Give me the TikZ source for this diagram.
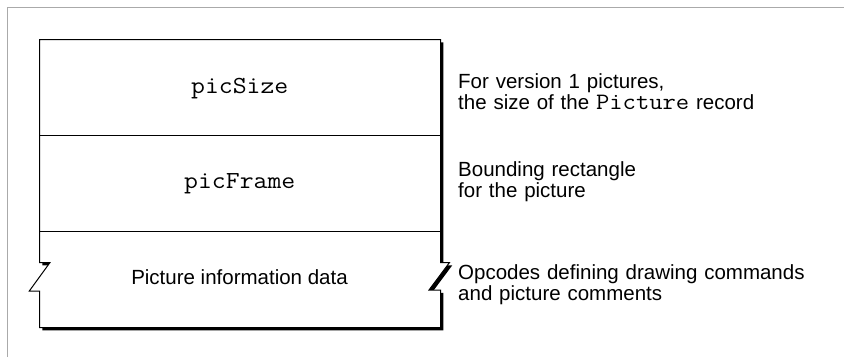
\documentclass[tikz,border=0pt]{standalone}
\usepackage{fontspec}
\setmainfont{Liberation Sans}
\newfontfamily\cour[FakeStretch=1.1]{Latin Modern Mono}
\begin{document}
\begin{tikzpicture}[x=1pt,y=-1pt,
  frameline/.style={draw={rgb,255:red,170;green,170;blue,170}, line width=1.5pt},
  boxline/.style={draw=black, line width=1pt},
  monotext/.style={font=\cour\fontsize{24.5}{26}\selectfont, inner sep=0pt},
  sanstext/.style={font=\fontsize{20.5}{22}\selectfont, inner sep=0pt},
  notetext/.style={font=\fontsize{20.5}{21.3}\selectfont, inner sep=0pt, text width=380pt, align=left, anchor=base west}]
\useasboundingbox (0,0) rectangle (844,357);
\draw[frameline] (7.3,357) -- (7.3,7.3) -- (844,7.3);
\def\recshape{(39.5,39.5) -- (440.5,39.5) -- (440.5,262.5) -- (449.5,262.5) -- (429,290) -- (440.5,290) -- (440.5,327.5) -- (39.5,327.5) -- (39.5,291) -- (29.3,291) -- (50,262.5) -- (39.5,262.5) -- cycle}
\begin{scope}
  \clip (41,0) rectangle (844,357);
  \fill[black, shift={(2.8,2.8)}] \recshape;
\end{scope}
\filldraw[boxline, fill=white] \recshape;
\draw[boxline] (39.5,135.5) -- (440.5,135.5);
\draw[boxline] (39.5,231.5) -- (440.5,231.5);
\node[monotext, anchor=base] (picsize) at (239.75,93.3) {picSize};
\node[monotext, anchor=base] (picframe) at (239.75,188.3) {picFrame};
\node[sanstext, anchor=base] (picdata) at (239.5,284.7) {Picture information data};
\node[notetext] (note1) at (458,88) {For version 1 pictures,\\the size of the {\cour\fontsize{23.5}{21}\selectfont Picture} record};
\node[notetext] (note2) at (458,176.5) {Bounding rectangle\\for the picture};
\node[notetext] (note3) at (458,279.3) {Opcodes defining drawing commands\\and picture comments};
\end{tikzpicture}
\end{document}
